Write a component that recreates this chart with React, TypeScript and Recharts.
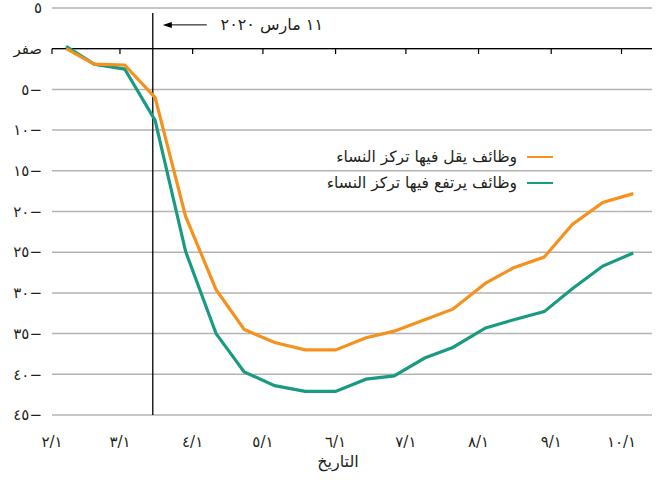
import React from 'react';
import { LineChart, Line, XAxis, YAxis, CartesianGrid, ReferenceLine, Legend } from 'recharts';

// sample dates and job changes in %
const dates = [
  '2020-02-07', '2020-02-19', '2020-03-03', '2020-03-16', '2020-03-29',
  '2020-04-11', '2020-04-23', '2020-05-06', '2020-05-19', '2020-06-01',
  '2020-06-14', '2020-06-26', '2020-07-09', '2020-07-21', '2020-08-04',
  '2020-08-16', '2020-08-29', '2020-09-10', '2020-09-23', '2020-10-06',
];
const lowFemaleShare = [
  0, -1.9, -2.0, -6.0, -20.6, -29.6, -34.5, -36.1, -37.0, -37.0,
  -35.5, -34.7, -33.3, -32.0, -28.8, -26.9, -25.6, -21.6, -18.9, -17.8,
];
const highFemaleShare = [
  0.3, -1.9, -2.5, -8.8, -24.9, -35.0, -39.7, -41.4, -42.1, -42.1,
  -40.6, -40.2, -38.0, -36.7, -34.3, -33.3, -32.3, -29.5, -26.7, -25.1,
];

const monthStarts = [
  '2020-02-01', '2020-03-01', '2020-04-01', '2020-05-01', '2020-06-01',
  '2020-07-01', '2020-08-01', '2020-09-01', '2020-10-01',
];
const monthLabels = ['٢/١', '٣/١', '٤/١', '٥/١', '٦/١', '٧/١', '٨/١', '٩/١', '١٠/١'];

const yTicks = [5, 0, -5, -10, -15, -20, -25, -30, -35, -40, -45];
const yTickLabels = ['٥', 'صفر', '٥−', '١٠−', '١٥−', '٢٠−', '٢٥−', '٣٠−', '٣٥−', '٤٠−', '٤٥−'];

const lowName = 'وظائف يقل فيها تركز النساء';
const highName = 'وظائف يرتفع فيها تركز النساء';
const markerDate = '2020-03-15';
const markerLabel = '١١ مارس ٢٠٢٠';
const axisTitle = 'التاريخ';

const ORANGE = '#F5921E';
const GREEN = '#1B9A83';
const TEXT = '#231f20';
const FONT = "'DejaVu Sans', sans-serif";

const ORIGIN = Date.UTC(2020, 1, 1);
const dayOf = (d: string) => (Date.parse(d) - ORIGIN) / 86400000;

const data = dates.map((d, i) => ({
  day: dayOf(d),
  low: lowFemaleShare[i],
  high: highFemaleShare[i],
}));
const monthTicks = monthStarts.map(dayOf);
const markerDay = dayOf(markerDate);

const XTick = (props: any) => {
  const { x, y, payload } = props;
  const label = monthLabels[monthTicks.indexOf(payload.value)];
  return (
    <text x={x} y={y + 24} textAnchor="middle" fontSize={15} fill={TEXT} fontFamily={FONT}>
      {label}
    </text>
  );
};

const YTick = (props: any) => {
  const { x, y, payload } = props;
  const label = yTickLabels[yTicks.indexOf(payload.value)];
  return (
    <text x={x - 2} y={y} dy="0.35em" textAnchor="end" fontSize={15} fill={TEXT} fontFamily={FONT}>
      {label}
    </text>
  );
};

const MarkerLabel = (props: any) => {
  const { x, y } = props.viewBox;
  const ay = y + 12;
  const tip = x + 10;
  return (
    <g>
      <line x1={tip + 6} y1={ay} x2={x + 54} y2={ay} stroke="#000" strokeWidth={1} />
      <polygon points={`${tip},${ay} ${tip + 9},${ay - 3} ${tip + 9},${ay + 3}`} fill="#000" />
      <text x={x + 119} y={ay} dy="0.35em" textAnchor="middle" direction="rtl" fontSize={16} fill={TEXT} fontFamily={FONT}>
        {markerLabel}
      </text>
    </g>
  );
};

const legendRows = [
  { name: lowName, color: ORANGE },
  { name: highName, color: GREEN },
];

const LegendBox = () => (
  <div style={{ fontFamily: FONT, fontSize: 15.5, color: TEXT }}>
    {legendRows.map((r) => (
      <div key={r.name} style={{ display: 'flex', justifyContent: 'flex-end', alignItems: 'center', height: 26 }}>
        <span style={{ direction: 'rtl' }}>{r.name}</span>
        <span style={{ display: 'inline-block', width: 26, height: 2.5, background: r.color, marginLeft: 10 }} />
      </div>
    ))}
  </div>
);

export default function App() {
  return (
    <div style={{ position: 'absolute', left: 0, top: 0, width: 657, height: 480, background: '#fff' }}>
      <LineChart width={657} height={480} data={data} margin={{ top: 8, right: 5, bottom: 0, left: 0 }}>
        <CartesianGrid vertical={false} stroke="#b3b3b3" strokeWidth={1.5} />
        <XAxis
          dataKey="day"
          type="number"
          domain={[0, 256]}
          ticks={monthTicks}
          interval={0}
          axisLine={false}
          tickLine={false}
          height={65}
          tick={<XTick />}
          label={{ value: axisTitle, position: 'insideBottom', offset: 13, dx: -14, fontSize: 16, fill: TEXT, fontFamily: FONT }}
        />
        <YAxis
          type="number"
          domain={[-45, 5]}
          ticks={yTicks}
          interval={0}
          axisLine={false}
          tickLine={false}
          width={52}
          tick={<YTick />}
        />
        <ReferenceLine y={0} stroke="#000" strokeWidth={1.2} />
        {monthTicks.map((d) => (
          <ReferenceLine key={d} segment={[{ x: d, y: 0 }, { x: d, y: -0.65 }]} stroke="#000" strokeWidth={1.2} />
        ))}
        <ReferenceLine
          segment={[{ x: markerDay, y: 4.4 }, { x: markerDay, y: -45 }]}
          stroke="#000"
          strokeWidth={1.3}
          label={(p: any) => <MarkerLabel {...p} />}
        />
        <Line dataKey="high" name={highName} stroke={GREEN} strokeWidth={3.2} dot={false} isAnimationActive={false} />
        <Line dataKey="low" name={lowName} stroke={ORANGE} strokeWidth={3.2} dot={false} isAnimationActive={false} />
        <Legend
          verticalAlign="middle"
          align="center"
          layout="horizontal"
          content={() => <LegendBox />}
          wrapperStyle={{ left: 253, top: 144, width: 300 }}
        />
      </LineChart>
    </div>
  );
}
